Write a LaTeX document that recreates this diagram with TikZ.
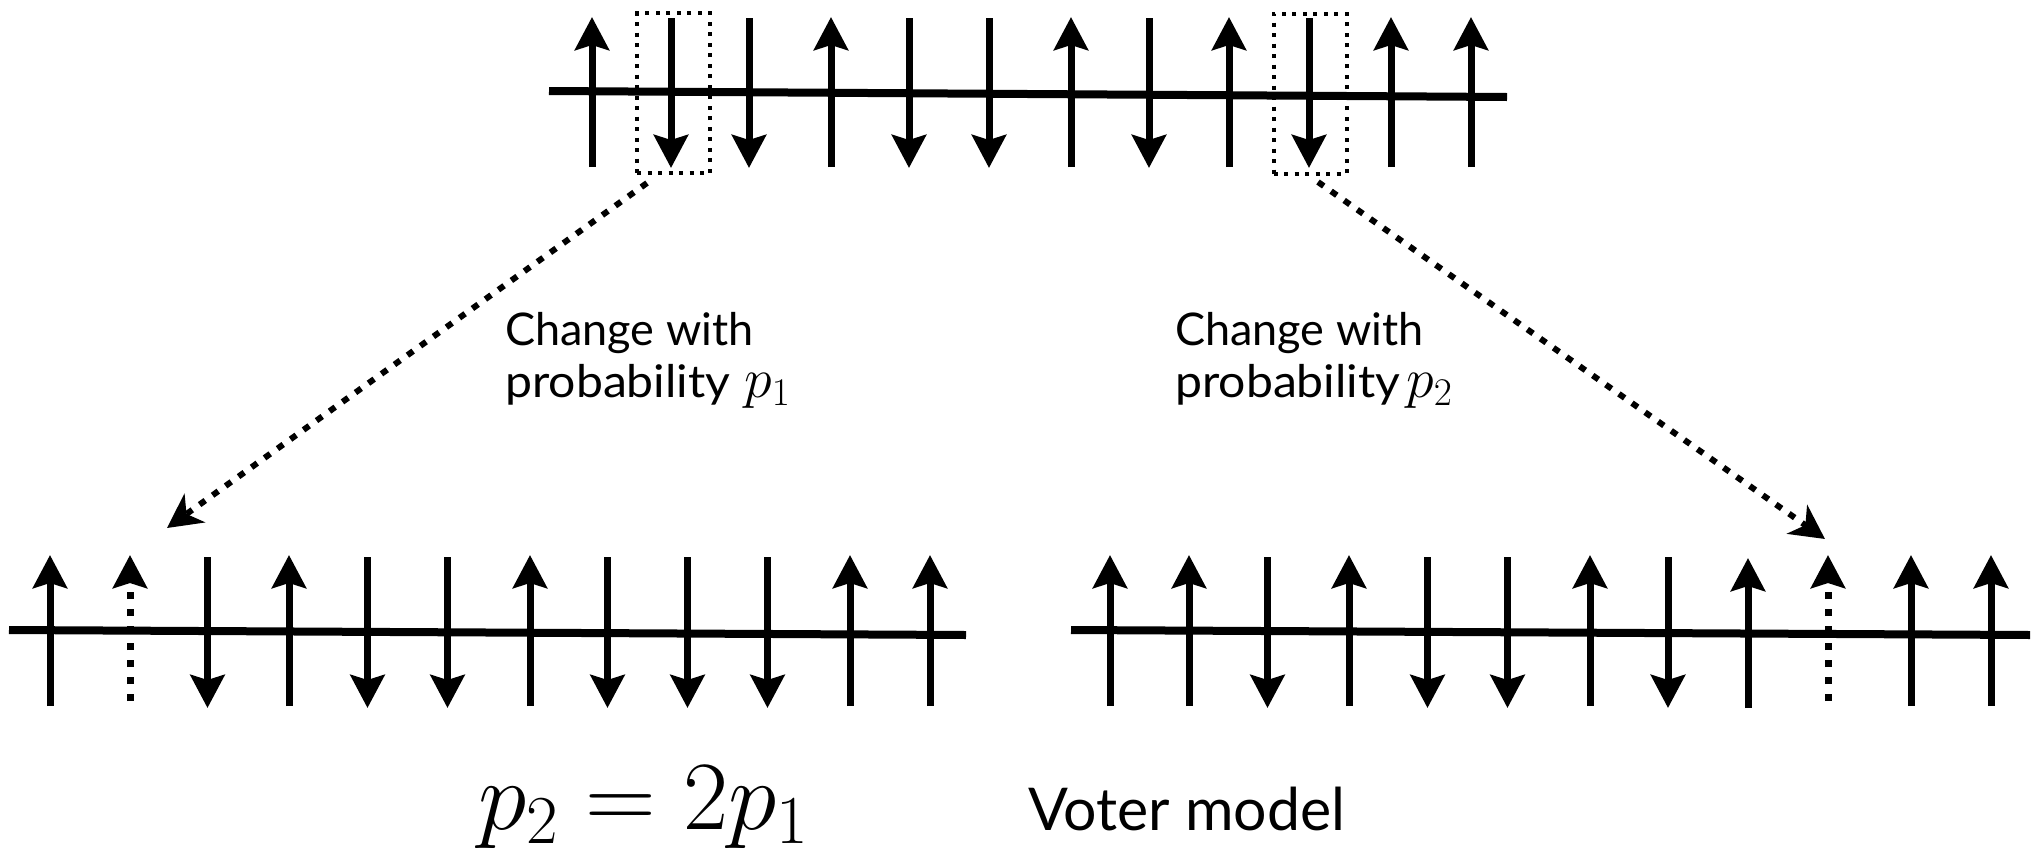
\RequirePackage{fix-cm}
\documentclass[tikz,border=0pt]{standalone}
\usepackage{graphicx}
\usepackage[no-math]{fontspec}
\setmainfont{Lato}
\usetikzlibrary{arrows.meta}
\begin{document}
\begin{tikzpicture}[x=1pt,y=-1pt,
  chainline/.style={line width=8pt},
  spin/.style={line width=7pt,-{Stealth[length=33pt,width=34pt,inset=5pt]}},
  flipped/.style={spin,dash pattern=on 7pt off 10pt},
  selbox/.style={draw,line width=4pt,dash pattern=on 4pt off 6.5pt,inner sep=0pt,minimum width=73pt,minimum height=160pt},
  hop/.style={line width=6pt,dash pattern=on 7pt off 9pt,-{Stealth[length=34pt,width=35pt,inset=10pt]}},
  lbl/.style={inner sep=0pt,anchor=base west,font=\fontsize{45}{52}\selectfont},
  bigm/.style={inner sep=0pt,anchor=base west,font=\fontsize{98}{108}\selectfont},
  bigt/.style={inner sep=0pt,anchor=base west,font=\fontsize{59}{64}\selectfont}]
\useasboundingbox (0,0) rectangle (2038,852);
% top chain
\draw[chainline] (549,91) -- (1507,97);
\foreach \x in {592,831,1071,1229,1391,1471} \draw[spin] (\x,167) -- (\x,17);
\foreach \x in {671,749,909,989,1149,1309} \draw[spin] (\x,18) -- (\x,168);
\node[selbox] (boxA) at (673.5,93) {};
\node[selbox] (boxB) at (1310,93.5) {};
% bottom-left chain
\draw[chainline] (9,630) -- (966,635);
\foreach \x in {50,289,530,850,930} \draw[spin] (\x,706) -- (\x,555);
\foreach \x in {207.5,367.5,447.5,607.5,687.5,767.5} \draw[spin] (\x,557) -- (\x,708);
\draw[flipped] (130,701) -- (130,555);
% bottom-right chain
\draw[chainline] (1071,630) -- (2030,635);
\foreach \x in {1110,1189,1349,1590,1911,1991} \draw[spin] (\x,706) -- (\x,555);
\draw[spin] (1748,708) -- (1748,558);
\foreach \x in {1267.5,1427.5,1507.5,1668} \draw[spin] (\x,557) -- (\x,708);
\draw[flipped] (1828,701) -- (1828,555);
% connectors
\coordinate (sA) at (647,183);
\coordinate (tA) at (167,528);
\coordinate (sB) at (1318,182);
\coordinate (tB) at (1825,539);
\draw[hop] (sA) -- (tA);
\draw[hop] (sB) -- (tB);
% labels
\node[lbl] (la1) at (505,345) {Change with};
\node[lbl] (la2) at (505,397) {\scalebox{1.07}[1]{probability}\hspace{14pt}{\fontsize{56}{60}\selectfont$p_1$}};
\node[lbl] (lb1) at (1175,345) {Change with};
\node[lbl] (lb2) at (1175,397) {\scalebox{1.07}[1]{probability}\hspace{6pt}{\fontsize{56}{60}\selectfont$p_2$}};
\node[bigm] (eq) at (478,829) {$p_2 = 2p_1$};
\node[bigt] (vm) at (1028,830) {Voter model};
\end{tikzpicture}
\end{document}
